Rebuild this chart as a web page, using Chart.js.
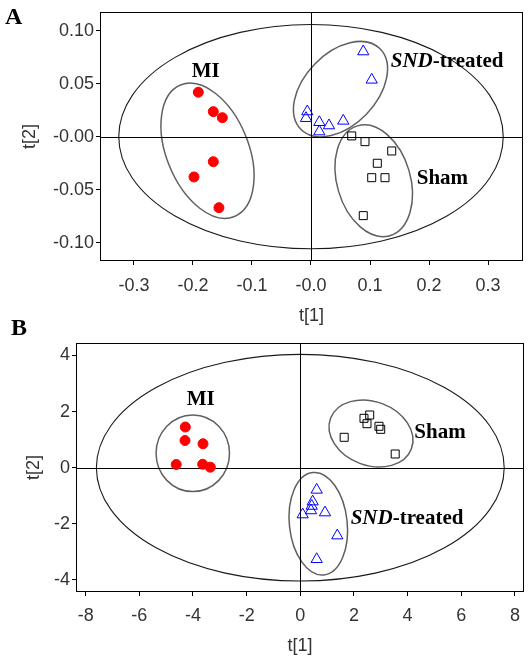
<!DOCTYPE html>
<html><head><meta charset="utf-8">
<script src="https://cdn.jsdelivr.net/npm/chart.js@4/dist/chart.umd.min.js"></script>
<style>
html,body{margin:0;padding:0;background:#fff;}
body{width:531px;height:663px;position:relative;overflow:hidden;}
#ca{position:absolute;left:0;top:0;}
#cb{position:absolute;left:0;top:315px;}
</style></head><body>
<canvas id="ca" width="531" height="330"></canvas>
<canvas id="cb" width="531" height="348"></canvas>
<script>
// ---------- Panel A data ----------
const groupNames = ['MI', 'SND-treated', 'Sham'];
const aMI_x   = [-0.191, -0.1656, -0.1503, -0.1656, -0.1983, -0.156];
const aMI_y   = [0.0419, 0.0236, 0.0179, -0.0236, -0.038, -0.067];
const aSND_x  = [0.0886, 0.1029, -0.0063, -0.0085, 0.0141, 0.0305, 0.0547, 0.0141];
const aSND_y  = [0.0803, 0.0536, 0.0237, 0.0174, 0.0136, 0.0105, 0.0149, 0.0048];
const aSham_x = [0.069, 0.0915, 0.1368, 0.1124, 0.1029, 0.1254, 0.0886];
const aSham_y = [0.0007, -0.0047, -0.0135, -0.0251, -0.0387, -0.0387, -0.0745];
const aXTicks = [-0.3, -0.2, -0.1, 0, 0.1, 0.2, 0.3];
const aXTickLabels = ['-0.3', '-0.2', '-0.1', '-0.0', '0.1', '0.2', '0.3'];
const aYTicks = [-0.10, -0.05, 0, 0.05, 0.10];
const aYTickLabels = ['-0.10', '-0.05', '-0.00', '0.05', '0.10'];
// ellipses (data units): centre + two conjugate semi-axis vectors
const aEllipses = [
  {cx: 0, cy: 0, ux: 0.3258, uy: 0, vx: 0, vy: 0.1058},
  {cx: -0.1754, cy: -0.0133, ux: 0.0457, uy: -0.0620, vx: -0.0643, vy: -0.0147},
  {cx: 0.0500, cy: 0.0448, ux: 0.0665, uy: 0.0383, vx: 0.0439, vy: -0.0236},
  {cx: 0.1063, cy: -0.0416, ux: 0.0274, uy: -0.0518, vx: -0.0597, vy: -0.0098}
];
const aLabelPos = [[-0.2022, 0.0566], [0.1351, 0.0653], [0.1792, -0.0449]];

// ---------- Panel B data ----------
const bMI_x   = [-4.286, -4.297, -3.626, -4.625, -3.638, -3.354];
const bMI_y   = [1.450, 0.969, 0.852, 0.114, 0.121, 0.018];
const bSND_x  = [0.611, 0.462, 0.425, 0.399, 0.921, 0.089, 1.379, 0.611];
const bSND_y  = [-0.791, -1.208, -1.365, -1.525, -1.600, -1.67, -2.420, -3.264];
const bSham_x = [2.374, 2.587, 2.486, 2.933, 2.997, 1.636, 3.537];
const bSham_y = [1.760, 1.878, 1.568, 1.475, 1.368, 1.083, 0.488];
const bXTicks = [-8, -6, -4, -2, 0, 2, 4, 6, 8];
const bXTickLabels = ['-8', '-6', '-4', '-2', '0', '2', '4', '6', '8'];
const bYTicks = [-4, -2, 0, 2, 4];
const bYTickLabels = ['-4', '-2', '0', '2', '4'];
const bEllipses = [
  {cx: 0, cy: 0, ux: 7.60, uy: 0, vx: 0, vy: 4.04},
  {cx: -4.007, cy: 0.513, ux: 1.368, uy: 0, vx: 0, vy: 1.365},
  {cx: 0.671, cy: -1.996, ux: 0.2073, uy: -1.8247, vx: -1.0708, vy: -0.1112},
  {cx: 2.635, cy: 1.219, ux: 1.5073, uy: -0.5417, vx: -0.4182, vy: -1.0642}
];
const bLabelPos = [[-4.234, 2.234], [1.878, -1.989], [4.249, 1.048]];

// ---------- helpers ----------
function pts(xs, ys) { return xs.map((v, i) => ({x: v, y: ys[i]})); }

const TICK_FONT = {family: '"Liberation Sans", Arial, sans-serif', size: 18};
const LABEL_FONT = '"Liberation Serif", "Times New Roman", serif';

const panelPlugin = {
  id: 'panel',
  beforeDatasetsDraw(chart, args, o) {
    const {ctx, chartArea: ca, scales: {x, y}} = chart;
    ctx.save();
    o.ellipses.forEach((e, i) => {
      const cx = x.getPixelForValue(e.cx), cy = y.getPixelForValue(e.cy);
      const ux = x.getPixelForValue(e.cx + e.ux) - cx, uy = y.getPixelForValue(e.cy + e.uy) - cy;
      const vx = x.getPixelForValue(e.cx + e.vx) - cx, vy = y.getPixelForValue(e.cy + e.vy) - cy;
      ctx.save();
      ctx.beginPath();
      ctx.transform(ux, uy, vx, vy, cx, cy);
      ctx.arc(0, 0, 1, 0, Math.PI * 2);
      ctx.restore();
      ctx.strokeStyle = i === 0 ? '#1a1a1a' : '#606060';
      ctx.lineWidth = i === 0 ? 1.1 : 1.5;
      ctx.stroke();
    });
    ctx.strokeStyle = '#000';
    ctx.lineWidth = 1;
    const x0 = Math.round(x.getPixelForValue(0)) + 0.5;
    const y0 = Math.round(y.getPixelForValue(0)) + 0.5;
    ctx.beginPath();
    ctx.moveTo(ca.left, y0); ctx.lineTo(ca.right, y0);
    ctx.moveTo(x0, ca.top); ctx.lineTo(x0, ca.bottom);
    ctx.stroke();
    ctx.strokeRect(ca.left + 0.5, ca.top + 0.5, ca.right - ca.left - 1, ca.bottom - ca.top - 1);
    ctx.restore();
  },
  afterDatasetsDraw(chart, args, o) {
    const {ctx, scales: {x, y}} = chart;
    ctx.save();
    ctx.fillStyle = '#000';
    ctx.textAlign = 'left';
    ctx.textBaseline = 'alphabetic';
    o.labelPos.forEach((p, i) => {
      let px = x.getPixelForValue(p[0]);
      const py = y.getPixelForValue(p[1]);
      const name = groupNames[i];
      const parts = name.startsWith('SND') ? [['SND', true], [name.slice(3), false]] : [[name, false]];
      parts.forEach(([t, it]) => {
        ctx.font = (it ? 'italic ' : '') + 'bold 21px ' + LABEL_FONT;
        ctx.fillText(t, px, py);
        px += ctx.measureText(t).width;
      });
    });
    ctx.font = 'bold 24px ' + LABEL_FONT;
    ctx.fillText(o.letter, o.letterX, o.letterY);
    ctx.restore();
  }
};

function makeChart(id, d) {
  const zeroPad = s => { s.paddingLeft = 0; s.paddingRight = 0; s.paddingTop = 0; s.paddingBottom = 0; };
  return new Chart(document.getElementById(id), {
    type: 'scatter',
    data: {
      datasets: [
        {label: groupNames[0], data: pts(d.mi[0], d.mi[1]), pointStyle: 'circle', pointRadius: 5,
         backgroundColor: '#ff0000', borderColor: '#ff0000', borderWidth: 1},
        {label: groupNames[1], data: pts(d.snd[0], d.snd[1]), pointStyle: 'triangle', pointRadius: 6.5,
         backgroundColor: 'rgba(0,0,0,0)', borderColor: '#0000ff', borderWidth: 1},
        {label: groupNames[2], data: pts(d.sham[0], d.sham[1]), pointStyle: 'rect', pointRadius: 5.66,
         backgroundColor: 'rgba(0,0,0,0)', borderColor: '#000000', borderWidth: 1}
      ]
    },
    options: {
      responsive: false,
      devicePixelRatio: 1,
      animation: false,
      events: [],
      layout: {autoPadding: false, padding: d.pad},
      plugins: {
        legend: {display: false},
        tooltip: {enabled: false},
        panel: {ellipses: d.ellipses, labelPos: d.labelPos, letter: d.letter, letterX: d.letterX, letterY: d.letterY}
      },
      scales: {
        x: {
          type: 'linear', position: 'bottom', min: d.xr[0], max: d.xr[1],
          afterBuildTicks: s => { s.ticks = d.xt.map(v => ({value: v})); },
          afterFit: s => { s.height = d.xh; zeroPad(s); },
          grid: {drawOnChartArea: false, drawTicks: true, tickLength: 4, color: '#000', lineWidth: 1},
          border: {display: false},
          ticks: {font: TICK_FONT, color: '#333', padding: d.xtp, maxRotation: 0, autoSkip: false,
                  callback: (v, i) => d.xl[i]},
          title: {display: true, text: 't[1]', font: TICK_FONT, color: '#333', padding: {top: 0, bottom: d.xtitle}}
        },
        y: {
          type: 'linear', position: 'left', min: d.yr[0], max: d.yr[1],
          afterBuildTicks: s => { s.ticks = d.yt.map(v => ({value: v})); },
          afterFit: s => { s.width = d.yw; zeroPad(s); },
          grid: {drawOnChartArea: false, drawTicks: true, tickLength: 4, color: '#000', lineWidth: 1},
          border: {display: false},
          ticks: {font: TICK_FONT, color: '#333', padding: 2, autoSkip: false,
                  callback: (v, i) => d.yl[i]},
          title: {display: true, text: 't[2]', font: TICK_FONT, color: '#333', padding: {top: d.ytitle, bottom: 0}}
        }
      }
    },
    plugins: [panelPlugin]
  });
}

makeChart('ca', {
  mi: [aMI_x, aMI_y], snd: [aSND_x, aSND_y], sham: [aSham_x, aSham_y],
  xt: aXTicks, xl: aXTickLabels, yt: aYTicks, yl: aYTickLabels,
  xr: [-0.3576, 0.3593], yr: [-0.1173, 0.1176],
  pad: {left: 0, top: 12, right: 8, bottom: 0}, xh: 69, yw: 100, xtp: 10, xtitle: 3, ytitle: 19,
  ellipses: aEllipses, labelPos: aLabelPos, letter: 'A', letterX: 5, letterY: 24
});
makeChart('cb', {
  mi: [bMI_x, bMI_y], snd: [bSND_x, bSND_y], sham: [bSham_x, bSham_y],
  xt: bXTicks, xl: bXTickLabels, yt: bYTicks, yl: bYTickLabels,
  xr: [-8.36, 8.338], yr: [-4.430, 4.444],
  pad: {left: 0, top: 28, right: 7, bottom: 0}, xh: 71, yw: 76, xtp: 9, xtitle: 6, ytitle: 23,
  ellipses: bEllipses, labelPos: bLabelPos, letter: 'B', letterX: 11, letterY: 20
});
</script>
</body></html>
